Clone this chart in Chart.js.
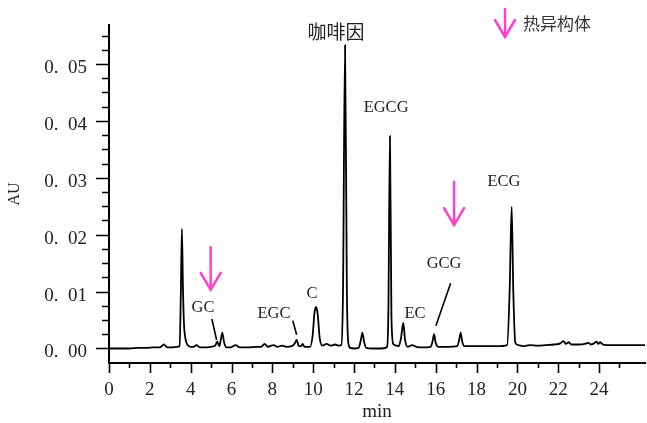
<!DOCTYPE html>
<html>
<head>
<meta charset="utf-8">
<script src="https://cdn.jsdelivr.net/npm/chart.js@4.4.1/dist/chart.umd.min.js"></script>
<style>
  html, body { margin: 0; padding: 0; background: #fff; }
</style>
</head>
<body>
<canvas id="hplc" width="647" height="423"></canvas>
<script>
// retention time (min) and absorbance (AU)
const times = [
  0.0, 0.5, 1.0, 1.4, 1.8, 2.2, 2.5, 2.69, 2.85, 3.1, 3.3, 3.46, 3.52, 3.57, 3.62, 3.67, 3.74, 3.85,
  4.0, 4.15, 4.28, 4.45, 4.7, 5.0, 5.2, 5.30, 5.40, 5.48, 5.55, 5.63, 5.75, 5.95, 6.2, 6.4, 6.8,
  7.2, 7.45, 7.62, 7.78, 8.05, 8.25, 8.46, 8.7, 8.95, 9.10, 9.19, 9.30, 9.40, 9.48, 9.58, 9.85,
  9.98, 10.06, 10.14, 10.22, 10.32, 10.45, 10.66, 10.85, 11.07, 11.25, 11.38, 11.46, 11.56, 11.65,
  11.72, 11.82, 12.0, 12.22, 12.33, 12.41, 12.49, 12.60, 12.9, 13.3, 13.60, 13.68, 13.76, 13.83,
  13.92, 14.10, 14.18, 14.30, 14.41, 14.50, 14.62, 14.85, 15.05, 15.4, 15.75, 15.85, 15.92, 16.00,
  16.12, 16.6, 17.05, 17.15, 17.22, 17.30, 17.42, 18.0, 18.6, 19.0, 19.50, 19.62, 19.72, 19.80,
  19.90, 20.05, 20.3, 20.6, 21.0, 21.4, 21.8, 22.1, 22.25, 22.38, 22.5, 22.65, 23.0, 23.3, 23.47,
  23.6, 23.75, 23.88, 23.96, 24.05, 24.2, 24.6, 25.2, 26.3
];
const absorb = [
  0.0000, 0.0000, 0.0000, 0.0001, 0.0001, 0.0002, 0.0002, 0.0007, 0.0002, 0.0002, 0.0003, 0.0004, 0.0100, 0.0210, 0.0110, 0.0045, 0.0018, 0.0006,
  0.0003, 0.0003, 0.0006, 0.0002, 0.0002, 0.0003, 0.0005, 0.0012, 0.0004, 0.0016, 0.0028, 0.0012, 0.0002, 0.0002, 0.0006, 0.0002, 0.0002,
  0.0003, 0.0003, 0.0008, 0.0003, 0.0006, 0.0003, 0.0005, 0.0003, 0.0004, 0.0009, 0.0015, 0.0004, 0.0004, 0.0008, 0.0003, 0.0003,
  0.0025, 0.0062, 0.0073, 0.0060, 0.0018, 0.0005, 0.0008, 0.0005, 0.0007, 0.0005, 0.0006, 0.0100, 0.0533, 0.0100,
  0.0010, 0.0001, 0.0000, 0.0001, 0.0014, 0.0028, 0.0012, 0.0001, 0.0000, 0.0000, 0.0002, 0.0060, 0.0373, 0.0060,
  0.0008, 0.0005, 0.0004, 0.0018, 0.0045, 0.0015, 0.0003, 0.0006, 0.0003, 0.0002, 0.0003, 0.0013, 0.0025, 0.0010,
  0.0003, 0.0003, 0.0004, 0.0015, 0.0028, 0.0012, 0.0004, 0.0004, 0.0004, 0.0004, 0.0006, 0.0100, 0.0249, 0.0100,
  0.0010, 0.0006, 0.0004, 0.0006, 0.0005, 0.0006, 0.0007, 0.0009, 0.0013, 0.0008, 0.0011, 0.0007, 0.0007, 0.0008, 0.0010,
  0.0007, 0.0009, 0.0012, 0.0008, 0.0011, 0.0007, 0.0006, 0.0006, 0.0006
];

// peak labels: text and where the text centre sits (min, AU)
const peakNames = ['GC', 'EGC', 'C', '咖啡因', 'EGCG', 'EC', 'GCG', 'ECG'];
const labelTimes = [4.60, 8.08, 9.94, 11.12, 13.57, 14.99, 16.41, 19.34];
const labelAU = [0.0071, 0.0062, 0.0096, 0.0556, 0.0423, 0.0062, 0.0149, 0.0293];

// leader lines [t1, v1, t2, v2]
const leaders = [
  [5.04, 0.00518, 5.27, 0.0015],
  [9.00, 0.0049, 9.19, 0.0024],
  [16.73, 0.01146, 16.01, 0.0040]
];

// pink arrows marking the heat isomers: time, top AU, tip AU
const isomerTimes = [4.98, 16.90];
const arrowTop = [0.0178, 0.0293];
const arrowTip = [0.0103, 0.0217];

const PINK = '#ff40cc';
const SERIF = '"Liberation Serif", "DejaVu Serif", serif';

function drawArrow(ctx, x, y1, y2) {
  ctx.save();
  ctx.strokeStyle = PINK;
  ctx.lineWidth = 2.5;
  ctx.lineCap = 'round';
  ctx.beginPath();
  ctx.moveTo(x, y1);
  ctx.lineTo(x, y2);
  ctx.moveTo(x - 10, y2 - 17);
  ctx.lineTo(x, y2);
  ctx.lineTo(x + 10, y2 - 17);
  ctx.stroke();
  ctx.restore();
}

const decor = {
  id: 'decor',
  afterDraw(chart) {
    const {ctx, chartArea} = chart;
    const xs = chart.scales.x, ys = chart.scales.y;
    ctx.save();
    ctx.strokeStyle = '#000';
    ctx.lineWidth = 1.6;
    ctx.beginPath();
    // y ticks (major every 0.01, minor every 0.0025)
    for (let i = 0; i <= 22; i++) {
      const py = Math.round(ys.getPixelForValue(i * 0.0025)) + 0.5;
      const len = i % 4 === 0 ? 13 : 7;
      ctx.moveTo(chartArea.left, py);
      ctx.lineTo(chartArea.left - len, py);
    }
    // x ticks (major every 2, minor every 1)
    for (let t = 0; t <= 25; t++) {
      const px = Math.round(xs.getPixelForValue(t)) + 0.5;
      const len = t % 2 === 0 ? 10 : 5;
      ctx.moveTo(px, chartArea.bottom);
      ctx.lineTo(px, chartArea.bottom + len);
    }
    ctx.stroke();

    // leader lines
    ctx.lineWidth = 1.6;
    ctx.beginPath();
    leaders.forEach(l => {
      ctx.moveTo(xs.getPixelForValue(l[0]), ys.getPixelForValue(l[1]));
      ctx.lineTo(xs.getPixelForValue(l[2]), ys.getPixelForValue(l[3]));
    });
    ctx.stroke();

    // peak labels
    ctx.fillStyle = '#222';
    ctx.textAlign = 'center';
    ctx.textBaseline = 'middle';
    peakNames.forEach((name, i) => {
      const cjk = /[\u4e00-\u9fff]/.test(name);
      ctx.font = cjk ? '19px "Noto Sans CJK SC"' : '16.5px ' + SERIF;
      ctx.fillText(name, xs.getPixelForValue(labelTimes[i]), ys.getPixelForValue(labelAU[i]));
    });

    // isomer arrows
    isomerTimes.forEach((t, i) => {
      drawArrow(ctx, xs.getPixelForValue(t), ys.getPixelForValue(arrowTop[i]), ys.getPixelForValue(arrowTip[i]));
    });

    // legend in the top-right corner
    drawArrow(ctx, 505, 9, 37);
    ctx.fillStyle = '#333';
    ctx.textAlign = 'left';
    ctx.font = '17px "Noto Sans CJK SC"';
    ctx.fillText('热异构体', 523, 24);
    ctx.restore();
  }
};

new Chart(document.getElementById('hplc'), {
  type: 'line',
  data: {
    datasets: [{
      data: times.map((t, i) => ({x: t, y: absorb[i]})),
      borderColor: '#000',
      borderWidth: 1.8,
      pointRadius: 0,
      cubicInterpolationMode: 'monotone',
      fill: false
    }]
  },
  options: {
    responsive: false,
    animation: false,
    devicePixelRatio: 1,
    layout: { padding: { top: 25, right: 2, left: 0, bottom: 0 } },
    plugins: { legend: { display: false }, tooltip: { enabled: false } },
    scales: {
      x: {
        type: 'linear',
        min: 0,
        max: 26.25,
        afterFit: s => { s.height = 60; s.paddingLeft = 0; s.paddingRight = 0; },
        border: { color: '#000', width: 2 },
        grid: { display: false, drawTicks: false },
        ticks: {
          stepSize: 2,
          includeBounds: false,
          maxRotation: 0,
          autoSkip: false,
          padding: 16,
          color: '#222',
          font: { family: SERIF, size: 19 },
          callback: v => (v <= 24 ? v : '')
        },
        title: {
          display: true,
          text: 'min',
          color: '#222',
          padding: 0,
          font: { family: SERIF, size: 19 }
        }
      },
      y: {
        min: -0.00255,
        max: 0.05685,
        afterFit: s => { s.width = 109; s.paddingTop = 0; s.paddingBottom = 0; },
        border: { color: '#000', width: 2 },
        grid: { display: false, drawTicks: false },
        ticks: {
          stepSize: 0.01,
          includeBounds: false,
          autoSkip: false,
          padding: 22,
          labelOffset: 4,
          color: '#222',
          font: { family: SERIF, size: 19 },
          callback: v => v.toFixed(2).replace('.', '.\u2002')
        },
        title: {
          display: true,
          text: 'AU',
          color: '#222',
          padding: { top: 5, bottom: 0 },
          font: { family: SERIF, size: 16 }
        }
      }
    }
  },
  plugins: [decor]
});
</script>
</body>
</html>
